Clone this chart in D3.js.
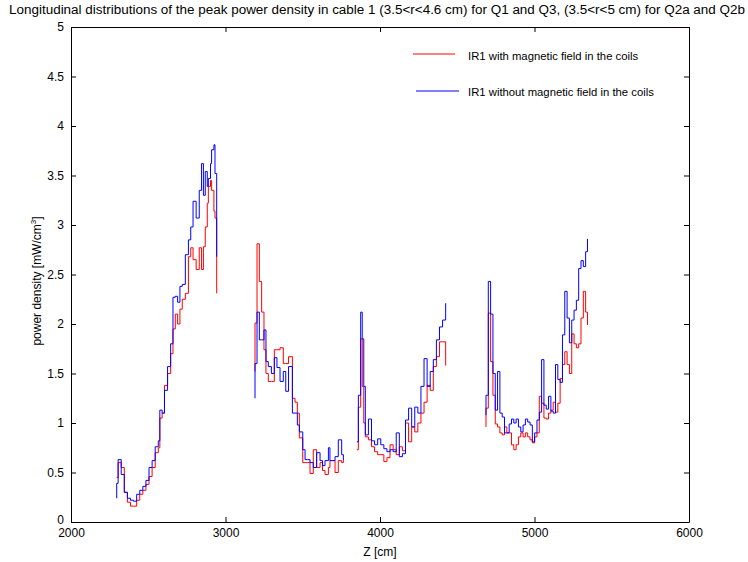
<!DOCTYPE html>
<html>
<head>
<meta charset="utf-8">
<script src="https://cdn.jsdelivr.net/npm/d3@7"></script>
<style>
  html, body { margin: 0; padding: 0; background: #fff; }
  svg { display: block; font-family: "Liberation Sans", Arial, sans-serif; }
  .tick text { fill: #000; }
</style>
</head>
<body>
<svg id="chart" width="748" height="562"></svg>
<script>
// Peak power density along Z, drawn as stairs. Each segment has a shared Z grid
// (bin edges, last entry = segment end); value arrays hold the lead-in level,
// one level per bin, then the closing level.

const xTicks = [2000, 3000, 4000, 5000, 6000];
const yTicks = [0, 0.5, 1, 1.5, 2, 2.5, 3, 3.5, 4, 4.5, 5];

const zSeg1 = [2296, 2305, 2325, 2345, 2365, 2385, 2405, 2425, 2445, 2465, 2485, 2505, 2525, 2545, 2565, 2575, 2590, 2605, 2625, 2645, 2660, 2675, 2690, 2705, 2720, 2740, 2760, 2775, 2790, 2810, 2830, 2845, 2857, 2869, 2882, 2889, 2903, 2910, 2925, 2932, 2943];
const withField1 = [0.45, 0.45, 0.60, 0.55, 0.30, 0.20, 0.16, 0.16, 0.22, 0.28, 0.32, 0.38, 0.46, 0.55, 0.70, 0.75, 1.05, 1.10, 1.38, 1.50, 1.70, 1.95, 2.10, 2.00, 2.15, 2.25, 2.31, 2.68, 2.77, 2.65, 2.55, 2.77, 2.55, 2.78, 2.98, 3.22, 3.39, 3.45, 3.35, 3.14, 3.07, 2.31];
const withoutField1 = [0.24, 0.39, 0.63, 0.48, 0.30, 0.24, 0.22, 0.21, 0.28, 0.32, 0.36, 0.42, 0.55, 0.62, 0.76, 0.82, 1.13, 1.10, 1.33, 1.57, 1.80, 2.27, 2.28, 2.22, 2.38, 2.40, 2.70, 2.85, 2.98, 3.24, 3.07, 3.35, 3.62, 3.30, 3.54, 3.39, 3.47, 3.62, 3.76, 3.81, 3.52, 2.68];

const zSeg2 = [3191, 3204, 3219, 3234, 3249, 3262, 3277, 3297, 3316, 3333, 3353, 3374, 3390, 3408, 3433, 3450, 3465, 3478, 3500, 3515, 3530, 3547, 3568, 3590, 3612, 3628, 3644, 3666, 3676, 3693, 3709, 3730, 3752, 3763];
const withField2 = [1.52, 2.01, 2.81, 2.43, 2.12, 1.74, 1.50, 1.42, 1.42, 1.74, 1.74, 1.76, 1.60, 1.60, 1.67, 1.25, 1.21, 1.10, 0.85, 0.60, 0.60, 0.60, 0.49, 0.73, 0.55, 0.60, 0.52, 0.48, 0.55, 0.62, 0.62, 0.50, 0.62, 0.60, 0.62];
const withoutField2 = [1.25, 1.60, 2.12, 1.84, 1.84, 1.94, 1.62, 1.57, 1.50, 1.66, 1.56, 1.42, 1.52, 1.32, 1.57, 1.10, 1.10, 0.98, 0.91, 0.73, 0.63, 0.63, 0.60, 0.55, 0.70, 0.62, 0.57, 0.62, 0.75, 0.62, 0.62, 0.66, 0.83, 0.68, 0.62];

const zSeg3 = [3850, 3860, 3875, 3885, 3895, 3905, 3925, 3945, 3965, 3985, 4005, 4025, 4045, 4065, 4085, 4105, 4125, 4145, 4165, 4185, 4205, 4225, 4245, 4265, 4285, 4305, 4325, 4345, 4365, 4385, 4405, 4425];
const withField3 = [0.73, 0.73, 1.16, 1.85, 1.37, 1.00, 0.86, 0.83, 0.76, 0.71, 0.68, 0.68, 0.61, 0.65, 0.78, 0.73, 0.68, 0.76, 0.72, 1.00, 0.81, 0.96, 0.91, 1.00, 1.10, 1.21, 1.38, 1.33, 1.57, 1.67, 1.82, 1.82, 1.58];
const withoutField3 = [0.81, 0.81, 1.28, 2.12, 1.85, 1.37, 0.88, 1.04, 0.82, 0.78, 0.84, 0.78, 0.74, 0.71, 0.73, 0.71, 0.90, 0.66, 0.69, 1.03, 1.15, 0.96, 1.16, 1.10, 1.37, 1.65, 1.37, 1.52, 1.64, 1.84, 1.97, 2.04, 2.21];

const zSeg4 = [4686, 4701, 4716, 4731, 4746, 4761, 4776, 4791, 4806, 4821, 4836, 4851, 4866, 4881, 4896, 4911, 4926, 4941, 4956, 4971, 4986, 5001, 5016, 5031, 5046, 5061, 5076, 5091, 5106, 5121, 5136, 5151, 5166, 5181, 5196, 5211, 5226, 5241, 5256, 5271, 5286, 5301, 5316, 5331, 5343];
const withField4 = [0.96, 1.15, 2.11, 1.62, 1.28, 0.99, 0.96, 0.90, 0.88, 0.96, 0.90, 0.90, 0.78, 0.73, 0.78, 0.86, 0.90, 0.86, 0.90, 0.86, 0.83, 0.80, 0.86, 0.90, 1.27, 1.20, 1.05, 1.04, 1.10, 1.13, 1.21, 1.11, 1.20, 1.45, 1.59, 1.72, 1.59, 1.50, 1.90, 1.80, 1.76, 1.80, 2.06, 2.33, 2.12, 1.99];
const withoutField4 = [1.08, 1.28, 2.43, 2.10, 1.50, 1.13, 1.52, 1.10, 1.06, 0.90, 0.90, 0.99, 1.04, 1.00, 1.04, 0.96, 0.91, 0.98, 1.04, 1.01, 0.98, 0.81, 0.90, 1.03, 1.11, 1.64, 1.18, 1.14, 1.27, 1.12, 1.10, 1.59, 1.44, 1.41, 1.89, 2.33, 2.06, 1.81, 2.04, 2.14, 2.24, 2.56, 2.64, 2.58, 2.73, 2.86];

const seriesNames = ["IR1 with magnetic field in the coils", "IR1 without magnetic field in the coils"];
const seriesColors = ["#ff0000", "#0000ff"];

const zGrids = [zSeg1, zSeg2, zSeg3, zSeg4];
const withField = [withField1, withField2, withField3, withField4];
const withoutField = [withoutField1, withoutField2, withoutField3, withoutField4];

const plot = { left: 71, top: 27, right: 689, bottom: 522 };

const svg = d3.select("#chart");

const x = d3.scaleLinear().domain([2000, 6000]).range([plot.left, plot.right]);
const y = d3.scaleLinear().domain([0, 5]).range([plot.bottom, plot.top]);

// stairs: (z0, lead) -> (z0, v0) -> ... -> (zEnd, close)
function stairPoints(z, v) {
  const pts = [[z[0], v[0]]];
  for (let i = 0; i < z.length - 1; i++) pts.push([z[i], v[i + 1]]);
  pts.push([z[z.length - 1], v[v.length - 1]]);
  return pts;
}

const line = d3.line()
  .x(d => x(d[0]))
  .y(d => y(d[1]))
  .curve(d3.curveStepAfter);

const plotArea = svg.append("g");

[withField, withoutField].forEach((series, si) => {
  series.forEach((vals, k) => {
    plotArea.append("path")
      .attr("d", line(stairPoints(zGrids[k], vals)))
      .attr("fill", "none")
      .attr("stroke", seriesColors[si])
      .attr("stroke-width", 1);
  });
});

// axes with inward ticks on all four sides
const fontSize = "12px";
const axisColor = "#000";

const bottomAxis = d3.axisBottom(x).tickValues(xTicks).tickSizeInner(-5).tickSizeOuter(0).tickPadding(6).tickFormat(d3.format("d"));
const topAxis = d3.axisTop(x).tickValues(xTicks).tickSizeInner(-5).tickSizeOuter(0).tickFormat("");
const leftAxis = d3.axisLeft(y).tickValues(yTicks).tickSizeInner(-5).tickSizeOuter(0).tickPadding(7).tickFormat(d3.format("~g"));
const rightAxis = d3.axisRight(y).tickValues(yTicks).tickSizeInner(-5).tickSizeOuter(0).tickFormat("");

function styleAxis(g) {
  g.selectAll(".domain").attr("stroke", axisColor);
  g.selectAll(".tick line").attr("stroke", axisColor);
  g.selectAll(".tick text").attr("font-size", fontSize).attr("font-family", "Liberation Sans, Arial, sans-serif").attr("fill", "#000");
}

svg.append("g").attr("transform", `translate(0,${plot.bottom})`).call(bottomAxis).call(styleAxis);
svg.append("g").attr("transform", `translate(0,${plot.top})`).call(topAxis).call(styleAxis);
svg.append("g").attr("transform", `translate(${plot.left},0)`).call(leftAxis).call(styleAxis);
svg.append("g").attr("transform", `translate(${plot.right},0)`).call(rightAxis).call(styleAxis);

// keep the "0" label clear of the first x label
svg.selectAll("g").filter(function () { return this.getAttribute("transform") === `translate(${plot.left},0)`; })
  .selectAll(".tick text").filter(d => d === 0).attr("dy", "0.1em");

// title
svg.append("text")
  .attr("x", 377)
  .attr("y", 14)
  .attr("text-anchor", "middle")
  .attr("font-size", "12px")
  .attr("textLength", 736)
  .attr("lengthAdjust", "spacingAndGlyphs")
  .attr("fill", "#000")
  .text("Longitudinal distributions of the peak power density in cable 1 (3.5<r<4.6 cm) for Q1 and Q3, (3.5<r<5 cm) for Q2a and Q2b");

// axis labels
svg.append("text")
  .attr("x", (plot.left + plot.right) / 2)
  .attr("y", 556)
  .attr("text-anchor", "middle")
  .attr("font-size", "12px")
  .attr("fill", "#000")
  .text("Z [cm]");

const yLabel = svg.append("text")
  .attr("transform", `translate(41,281) rotate(-90)`)
  .attr("text-anchor", "middle")
  .attr("font-size", "12px")
  .attr("fill", "#000");
yLabel.append("tspan").text("power density [mW/cm");
yLabel.append("tspan").attr("font-size", "8px").attr("dy", "-5").text("3");
yLabel.append("tspan").attr("dy", "5").text("]");

// legend
const legendRows = [
  { y: 54, x1: 413, x2: 455, ty: 60 },
  { y: 91, x1: 416, x2: 459, ty: 96 }
];
legendRows.forEach((r, i) => {
  svg.append("line")
    .attr("x1", r.x1).attr("x2", r.x2)
    .attr("y1", r.y).attr("y2", r.y)
    .attr("stroke", seriesColors[i]).attr("stroke-width", 1);
  svg.append("text")
    .attr("x", 468).attr("y", r.ty)
    .attr("font-size", "11.3px")
    .attr("fill", "#000")
    .text(seriesNames[i]);
});
</script>
</body>
</html>
